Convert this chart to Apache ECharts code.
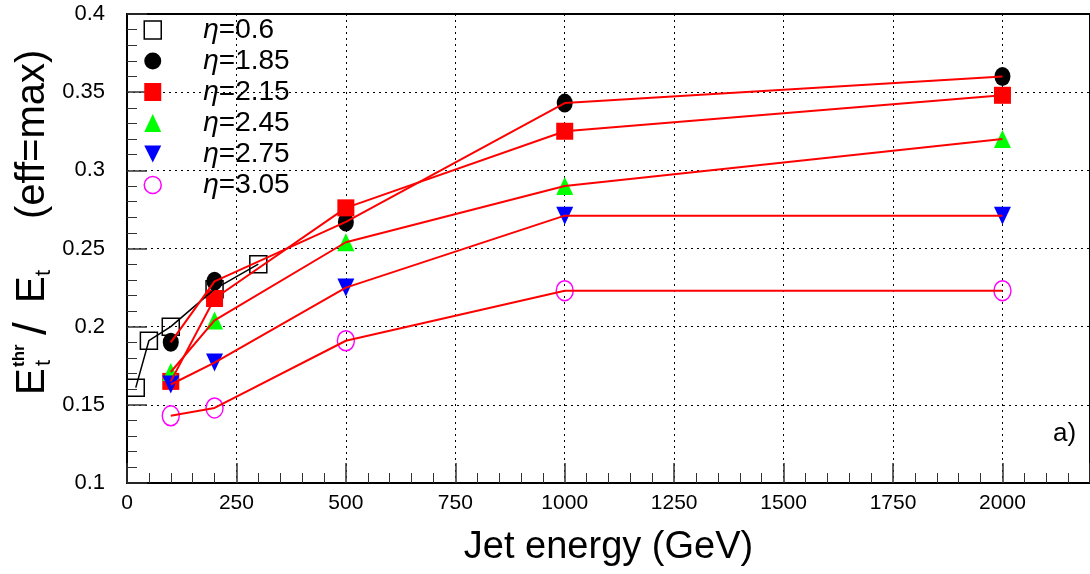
<!DOCTYPE html>
<html>
<head>
<meta charset="utf-8">
<script src="https://cdn.jsdelivr.net/npm/echarts@6/dist/echarts.min.js"></script>
<style>
html,body{margin:0;padding:0;background:#fff;}
#chart{width:1090px;height:574px;}
</style>
</head>
<body>
<div id="chart"></div>
<script>
// ---- data ----
const energy06 = [20, 50, 100, 200, 300];
const energy = [100, 200, 500, 1000, 2000];
const eta06  = [0.161, 0.191, 0.200, 0.224, 0.240];
const eta185 = [0.190, 0.229, 0.267, 0.343, 0.360];
const eta215 = [0.165, 0.218, 0.276, 0.325, 0.348];
const eta245 = [0.171, 0.204, 0.254, 0.290, 0.320];
const eta275 = [0.163, 0.177, 0.225, 0.271, 0.271];
const eta305 = [0.143, 0.148, 0.191, 0.223, 0.223];
const seriesNames = ['η=0.6', 'η=1.85', 'η=2.15', 'η=2.45', 'η=2.75', 'η=3.05'];
const xTitle = 'Jet energy (GeV)';
const panelLabel = 'a)';

const FONT = 'Liberation Sans';
function pairs(xs, ys) { return xs.map((x, i) => [x, ys[i]]); }

const markerDefs = [
  { x: energy06, y: eta06,  symbol: 'rect', size: 17, rotate: 0, style: { color: 'rgba(0,0,0,0)', borderColor: '#000', borderWidth: 1.5 }, line: '#000', lw: 1.5,
    legend: { icon: 'rect', itemStyle: { color: '#fff', borderColor: '#000', borderWidth: 1.5 } } },
  { x: energy, y: eta185, symbol: 'circle', size: [16, 19], rotate: 0, style: { color: '#000' }, line: '#ff0000', lw: 2,
    legend: { icon: 'circle', itemStyle: { color: '#000' } } },
  { x: energy, y: eta215, symbol: 'rect', size: 17, rotate: 0, style: { color: '#ff0000' }, line: '#ff0000', lw: 2,
    legend: { icon: 'rect', itemStyle: { color: '#ff0000' } } },
  { x: energy, y: eta245, symbol: 'triangle', size: [17, 18], rotate: 0, style: { color: '#00ff00' }, line: '#ff0000', lw: 2,
    legend: { icon: 'triangle', itemStyle: { color: '#00ff00' } } },
  { x: energy, y: eta275, symbol: 'triangle', size: [17, 18], rotate: 180, style: { color: '#0000ff' }, line: '#ff0000', lw: 2,
    legend: { icon: 'path://M0,0L10,0L5,10Z', itemStyle: { color: '#0000ff' } } },
  { x: energy, y: eta305, symbol: 'circle', size: [17, 20], rotate: 0, style: { color: 'rgba(0,0,0,0)', borderColor: '#ff00ff', borderWidth: 1.5 }, line: '#ff0000', lw: 2,
    legend: { icon: 'circle', itemStyle: { color: '#fff', borderColor: '#ff00ff', borderWidth: 1.5 } } }
];

const series = [];
markerDefs.forEach((d, i) => {
  series.push({
    name: seriesNames[i],
    type: 'scatter',
    data: pairs(d.x, d.y),
    symbol: d.symbol,
    symbolSize: d.size,
    symbolRotate: d.rotate,
    itemStyle: Object.assign({ opacity: 1 }, d.style),
    z: 2 + i * 0.01,
    silent: true
  });
});
markerDefs.forEach((d, i) => {
  series.push({
    name: 'line' + i,
    type: 'line',
    data: pairs(d.x, d.y),
    showSymbol: false,
    symbol: 'none',
    lineStyle: { color: d.line, width: d.lw, opacity: 1 },
    z: 5,
    silent: true
  });
});

const chart = echarts.init(document.getElementById('chart'), null, { renderer: 'canvas' });

const yTitleParts = [
  { text: 'E', x: 0, y: 0, size: 40 },
  { text: 'thr', x: 28, y: -14, size: 17, weight: 'bold' },
  { text: 't', x: 29, y: 11, size: 22 },
  { text: '/', x: 60, y: 0, size: 46 },
  { text: 'E', x: 92, y: 0, size: 40 },
  { text: 't', x: 119, y: 11, size: 22 },
  { text: '(eff=max)', x: 176, y: 0, size: 40 }
];

const option = {
  animation: false,
  backgroundColor: '#fff',
  grid: { left: 127, top: 14, width: 968, height: 469, show: true, borderColor: '#000', borderWidth: 2, backgroundColor: 'transparent' },
  legend: {
    data: seriesNames.map((n, i) => Object.assign({ name: n }, markerDefs[i].legend)),
    orient: 'vertical',
    left: 143.5,
    top: 16,
    padding: 0,
    itemGap: 3,
    itemWidth: 17,
    itemHeight: 18,
    selectedMode: false,
    formatter: n => '{i|η}{t|=' + n.split('=')[1] + '}',
    textStyle: {
      color: '#000',
      fontFamily: FONT,
      fontSize: 28,
      lineHeight: 26,
      padding: [0, 0, 0, 37],
      rich: {
        i: { fontFamily: FONT, fontSize: 28, lineHeight: 26, fontStyle: 'italic', color: '#000' },
        t: { fontFamily: FONT, fontSize: 28, lineHeight: 26, color: '#000' }
      }
    }
  },
  xAxis: {
    type: 'value',
    min: 0,
    max: 2200,
    interval: 250,
    name: xTitle,
    nameLocation: 'middle',
    nameGap: 46,
    nameTextStyle: { fontFamily: FONT, fontSize: 38, color: '#000', verticalAlign: 'top' },
    axisLine: { show: true, onZero: false, lineStyle: { color: '#000', width: 2 } },
    axisTick: { show: true, inside: true, length: 20, lineStyle: { color: '#333', width: 1.5 } },
    minorTick: { show: true, splitNumber: 5, length: 10, lineStyle: { color: '#333', width: 1 } },
    axisLabel: { fontFamily: FONT, fontSize: 21, color: '#000', margin: 10, showMaxLabel: false, formatter: v => String(v) },
    splitLine: { show: true, lineStyle: { color: '#000', width: 1, type: [2, 4] } }
  },
  yAxis: {
    type: 'value',
    min: 0.1,
    max: 0.4,
    interval: 0.05,
    axisLine: { show: true, onZero: false, lineStyle: { color: '#000', width: 2 } },
    axisTick: { show: true, inside: true, length: 20, lineStyle: { color: '#333', width: 1.5 } },
    minorTick: { show: true, splitNumber: 5, length: 10, lineStyle: { color: '#333', width: 1 } },
    axisLabel: { fontFamily: FONT, fontSize: 22, color: '#000', margin: 22 },
    splitLine: { show: true, lineStyle: { color: '#000', width: 1, type: [2, 4] } }
  },
  graphic: [
    {
      type: 'group',
      x: 33,
      y: 395,
      rotation: Math.PI / 2,
      children: yTitleParts.map(p => ({
        type: 'text',
        x: p.x,
        y: p.y,
        style: { text: p.text, fontFamily: FONT, fontSize: p.size, fontWeight: p.weight || 'normal', fill: '#000', textAlign: 'left', textVerticalAlign: 'middle' }
      }))
    },
    {
      type: 'text',
      left: 1053,
      top: 421,
      style: { text: panelLabel, fontFamily: FONT, fontSize: 26, fill: '#000' }
    }
  ],
  series: series
};
chart.setOption(option);
</script>
</body>
</html>
